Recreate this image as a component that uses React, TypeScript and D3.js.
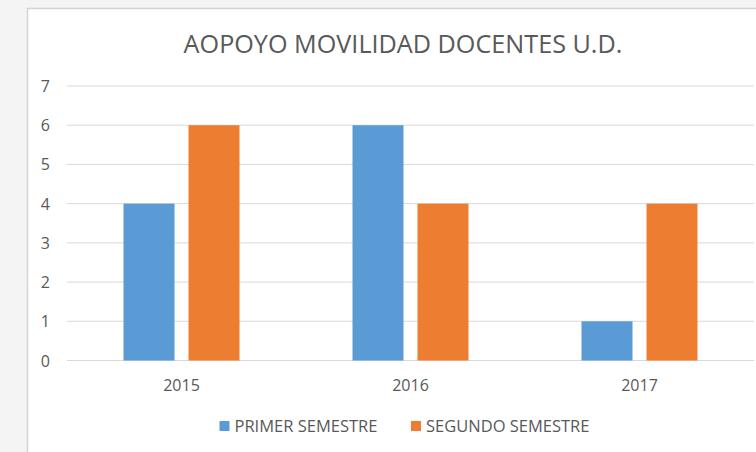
import React from "react";
import * as d3 from "d3";

const categories = ["2015", "2016", "2017"];
const seriesNames = ["PRIMER SEMESTRE", "SEGUNDO SEMESTRE"];
const primerSemestre = [4, 6, 1];
const segundoSemestre = [6, 4, 4];
const yTicks = [0, 1, 2, 3, 4, 5, 6, 7];
const title = "AOPOYO MOVILIDAD DOCENTES U.D.";

const colors = ["#5B9BD5", "#ED7D31"];
const W = 756, H = 452;
const FONT = "'Open Sans', 'Noto Sans', sans-serif";

export default function App() {
  const x0 = d3.scaleBand().domain(categories).range([67, 754]).paddingInner(0).paddingOuter(0);
  const y = d3.scaleLinear().domain([0, 7]).range([360.5, 86]);
  const barW = 51;
  const gap = 14;
  const series = [primerSemestre, segundoSemestre];

  return (
    <svg width={W} height={H} style={{ position: "absolute", left: 0, top: 0 }} fontFamily={FONT}>
      <rect x={0} y={0} width={W} height={H} fill="#f4f4f4" />
      <rect x={27.5} y={8.5} width={W} height={H} fill="#ffffff" stroke="#d4d4d4" strokeWidth={1.5} />
      <text x={403} y={53} textAnchor="middle" fontSize={25.2} fill="#595959">{title}</text>
      {yTicks.map((t) => (
        <g key={t}>
          <line x1={67} x2={754} y1={y(t)} y2={y(t)} stroke="#d9d9d9" strokeWidth={1} />
          <text x={50} y={y(t) + 6} textAnchor="end" fontSize={16} fill="#595959">{t}</text>
        </g>
      ))}
      {categories.map((c, i) => {
        const cx = (x0(c) as number) + x0.bandwidth() / 2;
        return (
          <g key={c}>
            {series.map((s, j) => {
              const bx = j === 0 ? cx - gap / 2 - barW : cx + gap / 2;
              return (
                <rect key={j} x={bx} y={y(s[i])} width={barW} height={y(0) - y(s[i])} fill={colors[j]} />
              );
            })}
            <text x={cx} y={391} textAnchor="middle" fontSize={16} fill="#595959">{c}</text>
          </g>
        );
      })}
      {seriesNames.map((n, j) => {
        const lx = j === 0 ? 219.5 : 411;
        return (
          <g key={n}>
            <rect x={lx} y={421} width={10} height={10} fill={colors[j]} />
            <text x={lx + 15} y={432} fontSize={16.5} fill="#595959">{n}</text>
          </g>
        );
      })}
    </svg>
  );
}
